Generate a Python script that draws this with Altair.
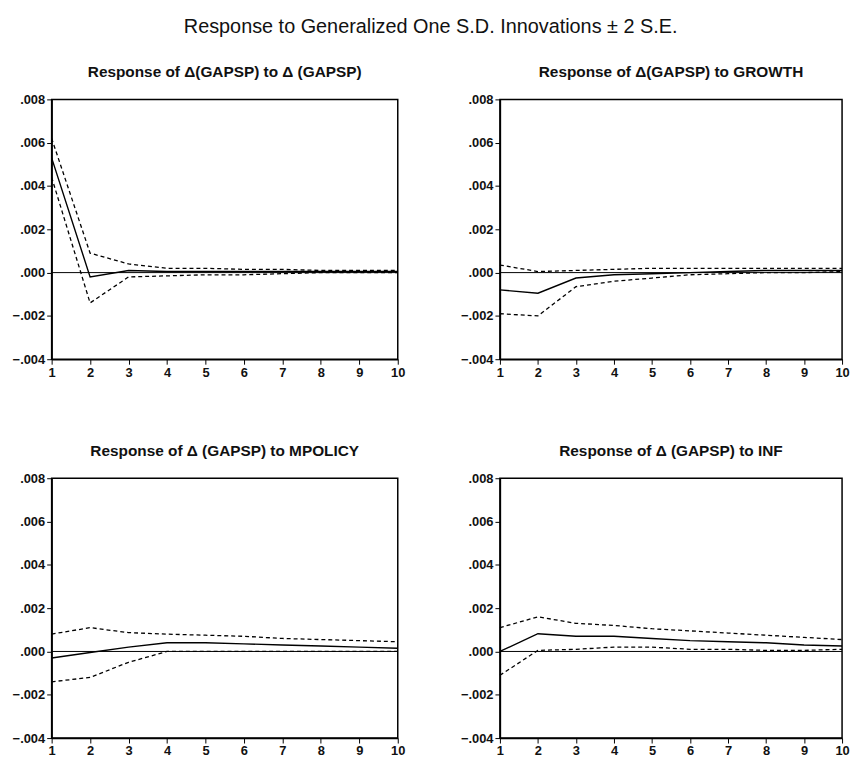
import altair as alt
import pandas as pd

horizon = list(range(1, 11))
y_ticks = [-0.004, -0.002, 0.0, 0.002, 0.004, 0.006, 0.008]

titles = [
    "Response of \u0394(GAPSP) to \u0394 (GAPSP)",
    "Response of \u0394(GAPSP) to GROWTH",
    "Response of \u0394 (GAPSP) to MPOLICY",
    "Response of \u0394 (GAPSP) to INF",
]

resp_gapsp = [0.0053, -0.0002, 0.0001, 0.00005, 0.00005, 0.00005, 0.00005, 0.00005, 0.00005, 0.00005]
upper_gapsp = [0.0062, 0.0009, 0.0004, 0.0002, 0.0002, 0.00015, 0.00015, 0.0001, 0.0001, 0.0001]
lower_gapsp = [0.0044, -0.0014, -0.0002, -0.00015, -0.0001, -0.0001, -0.00005, 0.0, 0.0, 0.0]

resp_growth = [-0.0008, -0.00095, -0.00025, -0.0001, -0.00005, 0.0, 0.00005, 0.0001, 0.0001, 0.0001]
upper_growth = [0.00035, 0.00005, 0.0001, 0.00015, 0.0002, 0.0002, 0.0002, 0.0002, 0.0002, 0.0002]
lower_growth = [-0.0019, -0.002, -0.00065, -0.0004, -0.00025, -0.0001, -0.00005, 0.0, 0.0, 0.00005]

resp_mpolicy = [-0.0003, -0.00005, 0.0002, 0.0004, 0.0004, 0.00035, 0.0003, 0.00025, 0.0002, 0.00015]
upper_mpolicy = [0.0008, 0.0011, 0.00087, 0.0008, 0.00075, 0.0007, 0.0006, 0.00055, 0.0005, 0.00045]
lower_mpolicy = [-0.0014, -0.0012, -0.0005, 0.0, 0.0, 0.0, 0.0, 0.0, 0.0, 0.0]

resp_inf = [0.0, 0.00082, 0.0007, 0.0007, 0.0006, 0.0005, 0.00045, 0.0004, 0.0003, 0.00025]
upper_inf = [0.0011, 0.0016, 0.0013, 0.0012, 0.00105, 0.00095, 0.00085, 0.00075, 0.00065, 0.00055]
lower_inf = [-0.0011, 0.00005, 0.0001, 0.0002, 0.0002, 0.0001, 0.0001, 0.00005, 0.00005, 0.0001]

panels = [
    (resp_gapsp, upper_gapsp, lower_gapsp),
    (resp_growth, upper_growth, lower_growth),
    (resp_mpolicy, upper_mpolicy, lower_mpolicy),
    (resp_inf, upper_inf, lower_inf),
]

FONT = "Liberation Sans"
WIDTHS = [349, 345, 349, 345]
H = 262


def make_panel(i):
    resp, upper, lower = panels[i]
    df = pd.DataFrame({
        "h": horizon * 3,
        "v": resp + upper + lower,
        "s": ["resp"] * 10 + ["upper"] * 10 + ["lower"] * 10,
    })
    x = alt.X("h:Q", scale=alt.Scale(domain=[1, 10], nice=False, zero=False),
              axis=alt.Axis(values=horizon, title=None, format="d", labelFlush=False))
    y = alt.Y("v:Q", scale=alt.Scale(domain=[-0.004, 0.008], nice=False),
              axis=alt.Axis(values=y_ticks, title=None,
                            labelExpr="replace(format(datum.value, '.3f'), '0.', '.')"))
    zero = alt.Chart(pd.DataFrame({"z": [0.0]})).mark_rule(color="black", strokeWidth=1).encode(y=alt.Y("z:Q"))
    solid = alt.Chart(df).transform_filter("datum.s == 'resp'").mark_line(
        color="black", strokeWidth=1.4).encode(x=x, y=y)
    dashed = alt.Chart(df).transform_filter("datum.s != 'resp'").mark_line(
        color="black", strokeWidth=1.3, strokeDash=[4, 3]).encode(x=x, y=y, detail="s:N")
    return alt.layer(zero, dashed, solid).properties(
        width=WIDTHS[i], height=H,
        title=alt.TitleParams(titles[i], font=FONT, fontSize=15.5, fontWeight="bold", color="#111111", offset=13),
    )


row1 = alt.hconcat(make_panel(0), make_panel(1), spacing=54)
row2 = alt.hconcat(make_panel(2), make_panel(3), spacing=54)

chart = alt.vconcat(row1, row2, spacing=63).properties(
    title=alt.TitleParams("Response to Generalized One S.D. Innovations \u00b1 2 S.E.",
                          font=FONT, fontSize=20, fontWeight="normal", color="#111111",
                          anchor="middle", offset=28),
    background="white",
    padding={"left": 3, "top": 5, "right": 0, "bottom": 2},
).configure_view(
    stroke="black", strokeWidth=1.5
).configure_axis(
    grid=False, domainColor="black", domainWidth=1.5, tickColor="black", tickSize=5,
    labelColor="#111111", labelFont=FONT, labelFontSize=13, labelFontWeight="bold", labelPadding=2,
)

chart.save("out.html", embed_options={"renderer": "svg", "actions": False})
